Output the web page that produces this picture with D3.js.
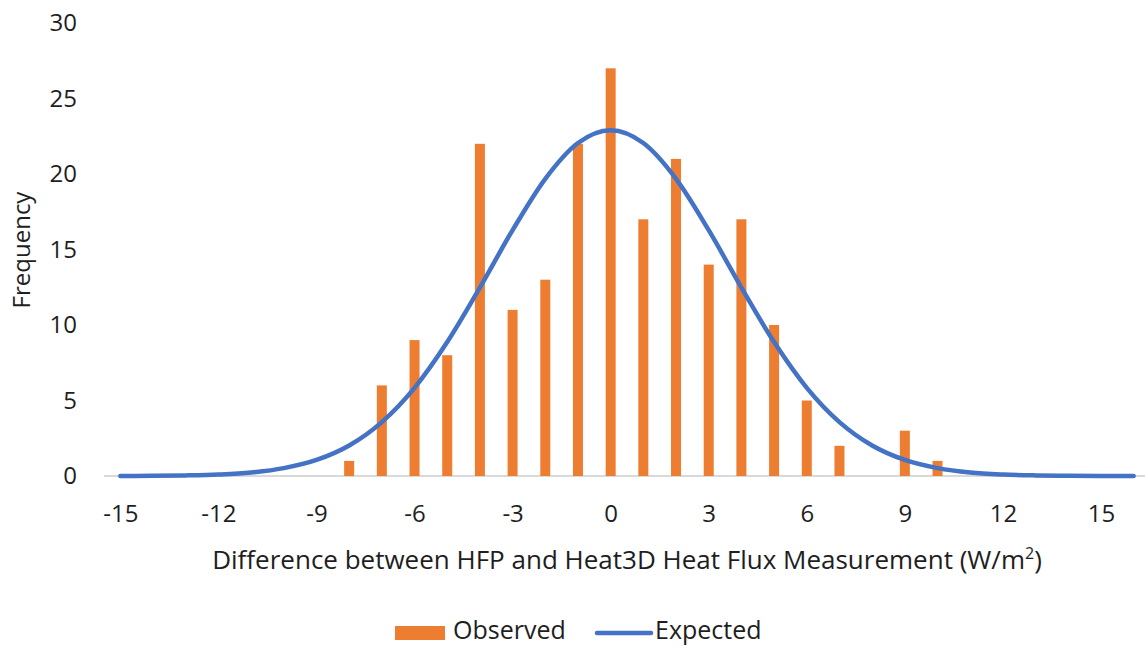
<!DOCTYPE html>
<html>
<head>
<meta charset="utf-8">
<script src="https://cdn.jsdelivr.net/npm/d3@7"></script>
<style>
  html, body { margin: 0; padding: 0; background: #fff; }
  svg text { font-family: "Open Sans", sans-serif; fill: #1e1e1e; }
</style>
</head>
<body>
<div id="chart"></div>
<script>
// observed histogram
var binCentres = [-8, -7, -6, -5, -4, -3, -2, -1, 0, 1, 2, 3, 4, 5, 6, 7, 8, 9, 10];
var observed   = [ 1,  6,  9,  8, 22, 11, 13, 22, 27, 17, 21, 14, 17, 10, 5,  2,  0,  3,  1];

// expected curve, read at each category
var expectedX = [-15, -14, -13, -12, -11, -10, -9, -8, -7, -6, -5, -4, -3, -2, -1, 0,
                 1, 2, 3, 4, 5, 6, 7, 8, 9, 10, 11, 12, 13, 14, 15, 16];
var expected  = [0.0, 0.01, 0.04, 0.10, 0.23, 0.52, 1.06, 2.02, 3.57, 5.84, 8.87, 12.48, 16.28, 19.68, 22.05, 22.9,
                 22.05, 19.68, 16.28, 12.48, 8.87, 5.84, 3.57, 2.02, 1.06, 0.52, 0.23, 0.10, 0.04, 0.01, 0.0, 0.0];

var xTicks = [-15, -12, -9, -6, -3, 0, 3, 6, 9, 12, 15];
var yTicks = [0, 5, 10, 15, 20, 25, 30];

var config = {
  "width": 1145,
  "height": 647,
  "orange": "#ed7d31",
  "blue": "#4472c4"
}

main();

function main() {
  const svg = d3.select("#chart")
    .append("svg")
    .attr("width", config.width)
    .attr("height", config.height);

  // category axis -15..16, half a category padding on each side
  const x = d3.scaleLinear()
    .domain([-15.5, 16.5])
    .range([104, 1150]);

  const y = d3.scaleLinear()
    .domain([0, 30])
    .range([476, 23]);

  const barW = 10;
  const plain = function(d) { return String(d); }; // keep hyphen minus like the original

  // y tick labels (no axis line, no grid)
  const yAxis = svg.append("g")
    .attr("transform", "translate(77,0)")
    .call(d3.axisLeft(y).tickValues(yTicks).tickFormat(plain).tickSize(0).tickPadding(0));
  yAxis.select(".domain").remove();
  yAxis.selectAll("text")
    .style("font-size", "24px")
    .attr("fill", "#1e1e1e");

  // x axis line
  svg.append("line")
    .attr("x1", x.range()[0])
    .attr("x2", x.range()[1])
    .attr("y1", y(0))
    .attr("y2", y(0))
    .style("stroke", "#d9d9d9")
    .style("stroke-width", 2);

  // x tick labels
  const xAxis = svg.append("g")
    .attr("transform", "translate(0," + y(0) + ")")
    .call(d3.axisBottom(x).tickValues(xTicks).tickFormat(plain).tickSize(0).tickPadding(29));
  xAxis.select(".domain").remove();
  xAxis.selectAll("text")
    .style("font-size", "24px")
    .attr("fill", "#1e1e1e");

  // bars
  svg.append("g")
    .selectAll("rect")
    .data(binCentres)
    .enter()
    .append("rect")
    .attr("x", function(d) { return x(d) - barW / 2; })
    .attr("width", barW)
    .attr("y", function(d, i) { return y(observed[i]); })
    .attr("height", function(d, i) { return y(0) - y(observed[i]); })
    .style("fill", config.orange);

  // expected curve
  const line = d3.line()
    .x(function(d) { return x(d); })
    .y(function(d, i) { return y(expected[i]); })
    .curve(d3.curveMonotoneX);

  svg.append("path")
    .datum(expectedX)
    .attr("d", line)
    .style("fill", "none")
    .style("stroke", config.blue)
    .style("stroke-width", 4.5)
    .style("stroke-linecap", "round");

  // axis titles
  svg.append("text")
    .attr("transform", "translate(30,250) rotate(-90)")
    .attr("text-anchor", "middle")
    .style("font-size", "24px")
    .text("Frequency");

  const xt = svg.append("text")
    .attr("x", 627)
    .attr("y", 569)
    .attr("text-anchor", "middle")
    .style("font-size", "26px")
    .text("Difference between HFP and Heat3D Heat Flux Measurement (W/m");
  xt.append("tspan")
    .attr("dy", -10)
    .style("font-size", "16px")
    .text("2");
  xt.append("tspan")
    .attr("dy", 10)
    .text(")");

  // legend
  const lg = svg.append("g");
  lg.append("rect")
    .attr("x", 395)
    .attr("y", 626)
    .attr("width", 50)
    .attr("height", 14)
    .style("fill", config.orange);
  lg.append("text")
    .attr("x", 453)
    .attr("y", 639)
    .style("font-size", "25px")
    .text("Observed");
  lg.append("line")
    .attr("x1", 597)
    .attr("x2", 651)
    .attr("y1", 633)
    .attr("y2", 633)
    .style("stroke", config.blue)
    .style("stroke-width", 4.5)
    .style("stroke-linecap", "round");
  lg.append("text")
    .attr("x", 655)
    .attr("y", 639)
    .style("font-size", "25px")
    .text("Expected");
}
</script>
</body>
</html>
